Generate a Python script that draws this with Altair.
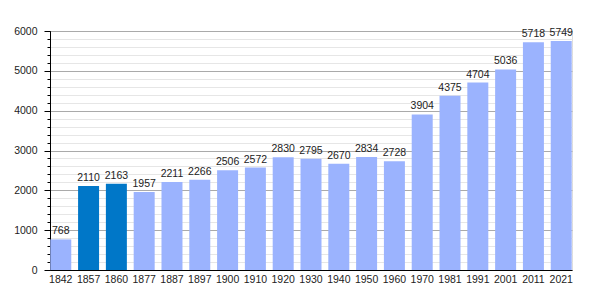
import altair as alt
import pandas as pd

years = ["1842", "1857", "1860", "1877", "1887", "1897", "1900", "1910", "1920", "1930",
         "1940", "1950", "1960", "1970", "1981", "1991", "2001", "2011", "2021"]
population = [768, 2110, 2163, 1957, 2211, 2266, 2506, 2572, 2830, 2795,
              2670, 2834, 2728, 3904, 4375, 4704, 5036, 5718, 5749]
highlighted = ["1857", "1860"]
major_ticks = [0, 1000, 2000, 3000, 4000, 5000, 6000]
minor_ticks = [v for v in range(0, 6001, 200)]

df = pd.DataFrame({"year": years, "pop": population})
df["hl"] = df["year"].isin(highlighted)

FONT = "Liberation Sans"
FS = 10.5
W, H = 522, 239

x = alt.X("year:O", sort=years, title=None,
          scale=alt.Scale(paddingInner=0.245, paddingOuter=0.01),
          axis=alt.Axis(labelAngle=0, ticks=False, domainColor="#000", labelFont=FONT,
                        labelFontSize=FS, labelColor="#222", labelPadding=4, grid=False))

yscale = alt.Scale(domain=[0, 6000], nice=False)

minor = alt.Chart(df).mark_bar(opacity=0).encode(
    x=x,
    y=alt.Y("pop:Q", scale=yscale, title=None,
            axis=alt.Axis(orient="left", values=minor_ticks, labels=False, tickSize=3,
                          tickColor="#000", domain=False, grid=True, gridColor="#e6e6e6",
                          gridWidth=1))
)

major = alt.Chart(df).mark_bar(opacity=0).encode(
    x=x,
    y=alt.Y("pop:Q", scale=yscale, title=None,
            axis=alt.Axis(orient="left", values=major_ticks, format="d", tickSize=6,
                          tickColor="#000", domainColor="#000", grid=True,
                          gridColor="#aaaaaa", gridWidth=1, labelFont=FONT,
                          labelFontSize=FS, labelColor="#222", labelPadding=7))
)

bars = alt.Chart(df).mark_bar().encode(
    x=x,
    y=alt.Y("pop:Q", scale=yscale, axis=None),
    color=alt.condition("datum.hl", alt.value("#0077c8"), alt.value("#9bb3fe")),
)

labels = alt.Chart(df).mark_text(baseline="bottom", dy=-3, font=FONT, fontSize=FS,
                                 color="#222").encode(
    x=x,
    y=alt.Y("pop:Q", scale=yscale, axis=None),
    text="pop:Q",
)

chart = alt.layer(minor, major, bars, labels).resolve_axis(y="independent").properties(
    width=W, height=H,
    autosize=alt.AutoSizeParams(type="none"),
    padding={"left": 50, "top": 31, "right": 28, "bottom": 30},
).configure_view(stroke=None).configure(background="white")

chart.save("out.html", embed_options={"renderer": "svg", "actions": False})
